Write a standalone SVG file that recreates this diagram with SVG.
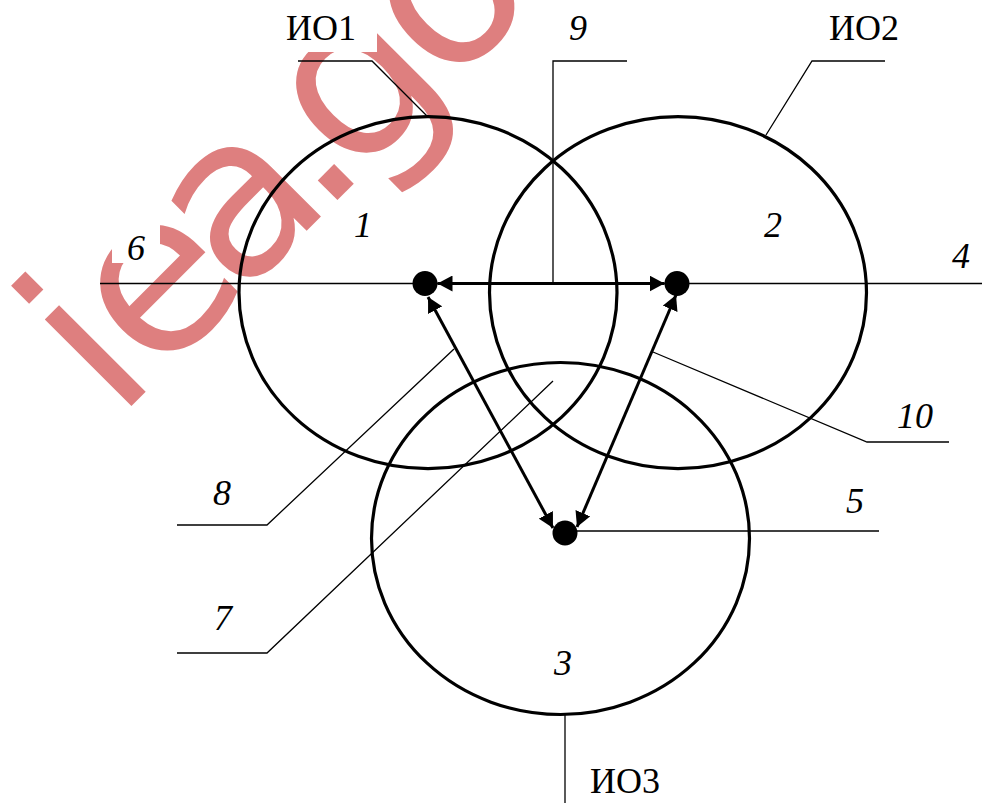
<svg xmlns="http://www.w3.org/2000/svg" width="982" height="803" viewBox="0 0 982 803">
  <style>
    .wm { font-family: "DejaVu Sans", sans-serif; font-size: 224px; fill: #de7f7f; }
    .zone { fill: none; stroke: #000; stroke-width: 3.2; }
    .dot { fill: #000; }
    .arrow { fill: none; stroke: #000; stroke-width: 3; }
    .thin { fill: none; stroke: #000; stroke-width: 1.3; }
    .num { font-family: "Liberation Serif", "Times New Roman", serif; font-style: italic; font-size: 36px; fill: #000; text-anchor: middle; }
    .name { font-family: "Liberation Serif", "Times New Roman", serif; font-size: 36px; fill: #000; }
    .bg { fill: #fff; stroke: none; }
  </style>
  <defs>
    <marker id="ah" viewBox="0 0 15 16" refX="15" refY="8" markerWidth="15" markerHeight="16" markerUnits="userSpaceOnUse" orient="auto-start-reverse">
      <path d="M0,0 L15,8 L0,16 z" fill="#000"/>
    </marker>
  </defs>

  <!-- watermark -->
  <text class="wm" transform="translate(116.6,420.9) rotate(-45)" dx="0 -6 -22 -21 -23 -12">iea.go</text>

  <!-- label backgrounds that mask the watermark -->
  <rect class="bg" x="280" y="4" width="97" height="48"/>
  <rect class="bg" x="112" y="222" width="48" height="41"/>

  <!-- zones (nodes) -->
  <g id="io1">
    <ellipse class="zone" cx="428" cy="292.7" rx="189" ry="176"/>
    <text class="num" x="363" y="237">1</text>
  </g>
  <g id="io2">
    <ellipse class="zone" cx="678" cy="292.7" rx="188.5" ry="176"/>
    <text class="num" x="773" y="237">2</text>
  </g>
  <g id="io3">
    <ellipse class="zone" cx="560.5" cy="538.5" rx="189" ry="176"/>
    <text class="num" x="563" y="675">3</text>
  </g>

  <!-- axis / leader lines -->
  <g id="leaders">
    <line class="thin" x1="100" y1="283.5" x2="982" y2="283.5"/>
    <polyline class="thin" points="553,283.5 553,61 627,61"/>
    <polyline class="thin" points="298,61 372,61 427,116"/>
    <polyline class="thin" points="885,61 812,61 766,135"/>
    <line class="thin" x1="565" y1="714" x2="565" y2="803"/>
    <line class="thin" x1="565" y1="531" x2="879" y2="531"/>
    <polyline class="thin" points="653,352 867,442 949,442"/>
    <polyline class="thin" points="454,349 267,525 177,525"/>
    <polyline class="thin" points="553,381 267,653 177,653"/>
  </g>

  <!-- points -->
  <g id="p1"><circle class="dot" cx="425" cy="283.5" r="12.5"/></g>
  <g id="p2"><circle class="dot" cx="677" cy="283.5" r="12.5"/></g>
  <g id="p3"><circle class="dot" cx="565" cy="533" r="12.5"/></g>

  <!-- connectors -->
  <g id="connectors">
    <line class="arrow" x1="437.5" y1="283.5" x2="664.5" y2="283.5" marker-start="url(#ah)" marker-end="url(#ah)"/>
    <line class="arrow" x1="428" y1="297" x2="553" y2="528" marker-start="url(#ah)" marker-end="url(#ah)"/>
    <line class="arrow" x1="676" y1="295" x2="577" y2="527" marker-start="url(#ah)" marker-end="url(#ah)"/>
  </g>

  <!-- labels -->
  <g id="labels">
    <text class="name" x="286" y="40">ИО1</text>
    <text class="name" x="829" y="40">ИО2</text>
    <text class="name" x="590" y="793">ИО3</text>
    <text class="num" x="578" y="40">9</text>
    <text class="num" x="136" y="260">6</text>
    <text class="num" x="961" y="268">4</text>
    <text class="num" x="855" y="513">5</text>
    <text class="num" x="915" y="428">10</text>
    <text class="num" x="222" y="505">8</text>
    <text class="num" x="223" y="630">7</text>
  </g>
</svg>
